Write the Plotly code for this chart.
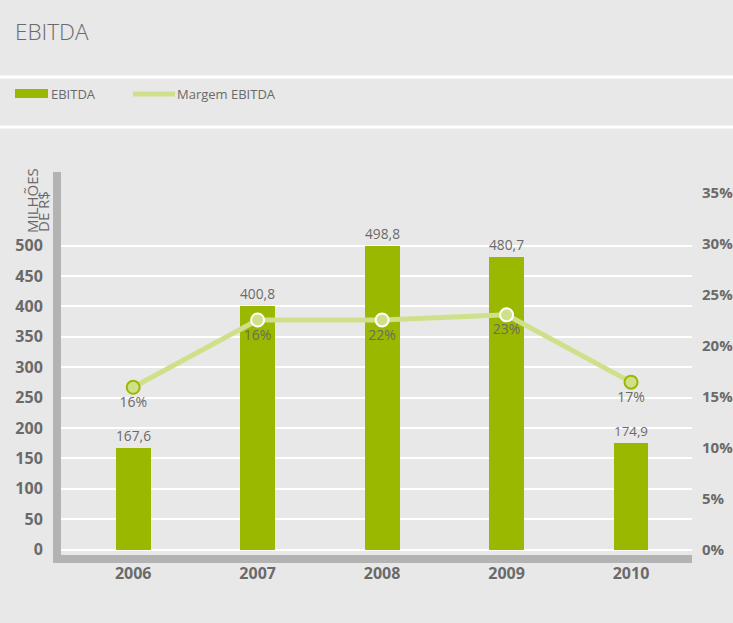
# EBITDA e margem EBITDA, 2006-2010
import plotly.graph_objects as go

# Dados
anos = ["2006", "2007", "2008", "2009", "2010"]
ebitda = [167.6, 400.8, 498.8, 480.7, 174.9]
margem = [15.9, 22.5, 22.5, 23.0, 16.4]
margem_rotulos = ["16%", "16%", "22%", "23%", "17%"]
ticks_esq = [0, 50, 100, 150, 200, 250, 300, 350, 400, 450, 500]
ticks_dir = [0, 5, 10, 15, 20, 25, 30, 35]

# Cores
VERDE = "#9bb800"
VERDE_CLARO = "#cfe08a"
CINZA_TXT = "#6a6a6a"
CINZA_EIXO = "#b3b3b3"
FUNDO = "#e8e8e8"
FONTE = "Open Sans"

W, H = 733, 623
L, R, T, B = 61, 41, 172, 68


def px(x):
    return (x - L) / (W - L - R)


def py(y):
    return (H - B - y) / (H - T - B)


fig = go.Figure()

fig.add_trace(go.Bar(
    x=anos, y=ebitda, name="EBITDA",
    marker=dict(color=VERDE, line=dict(width=0)),
    width=0.28,
    texttemplate="%{y:.1f}", textposition="outside",
    textfont=dict(size=14, color=CINZA_TXT, family=FONTE),
    cliponaxis=False,
))

fig.add_trace(go.Scatter(
    x=anos, y=margem, name="Margem EBITDA", yaxis="y2",
    mode="lines+markers+text",
    line=dict(color=VERDE_CLARO, width=5),
    marker=dict(size=13, color=VERDE_CLARO,
                line=dict(width=2, color=[VERDE, "white", "white", "white", VERDE])),
    text=margem_rotulos, textposition="bottom center",
    textfont=dict(size=14, color=CINZA_TXT, family=FONTE),
    cliponaxis=False,
))

fig.update_layout(
    width=W, height=H,
    margin=dict(l=L, r=R, t=T, b=B),
    paper_bgcolor=FUNDO, plot_bgcolor=FUNDO,
    separators=",.",
    showlegend=False,
    bargap=0,
    font=dict(family=FONTE, color=CINZA_TXT),
    xaxis=dict(
        type="category", range=[-0.58, 4.49], automargin=False,
        showgrid=False, showline=True, linecolor=CINZA_EIXO, linewidth=8,
        ticks="", ticklabelstandoff=-3,
        tickfont=dict(size=16, color=CINZA_TXT, family=FONTE, weight="bold"),
    ),
    yaxis=dict(
        range=[-9, 621], tickvals=ticks_esq, automargin=False,
        showgrid=True, gridcolor="white", gridwidth=2,
        zeroline=False,
        showline=True, linecolor=CINZA_EIXO, linewidth=8,
        ticks="", ticklabelstandoff=7,
        tickfont=dict(size=16, color=CINZA_TXT, family=FONTE, weight="bold"),
    ),
    yaxis2=dict(
        overlaying="y", side="right", automargin=False,
        range=[-0.54, 37.0], tickvals=ticks_dir,
        ticktext=[f"{v}%" for v in ticks_dir],
        showgrid=False, zeroline=False, showline=False,
        ticks="", ticklabelstandoff=9,
        tickfont=dict(size=15, color=CINZA_TXT, family=FONTE, weight="bold"),
    ),
)

# Faixas brancas de separação
for yy in (77, 127):
    fig.add_shape(type="line", xref="paper", yref="paper",
                  x0=px(0), x1=px(W), y0=py(yy), y1=py(yy),
                  line=dict(color="white", width=3))

# Título
fig.add_annotation(text="EBITDA", xref="paper", yref="paper",
                   x=px(13), y=py(31), xanchor="left", yanchor="middle",
                   showarrow=False,
                   font=dict(size=22.5, color=CINZA_TXT, family=FONTE, weight=300))

# Legenda
fig.add_shape(type="rect", xref="paper", yref="paper",
              x0=px(15), x1=px(48), y0=py(89), y1=py(98),
              fillcolor=VERDE, line=dict(width=0))
fig.add_annotation(text="EBITDA", xref="paper", yref="paper",
                   x=px(49), y=py(94), xanchor="left", yanchor="middle",
                   showarrow=False, font=dict(size=13, color=CINZA_TXT, family=FONTE))
fig.add_shape(type="line", xref="paper", yref="paper",
              x0=px(133), x1=px(175), y0=py(94), y1=py(94),
              line=dict(color=VERDE_CLARO, width=5))
fig.add_annotation(text="Margem EBITDA", xref="paper", yref="paper",
                   x=px(175), y=py(94), xanchor="left", yanchor="middle",
                   showarrow=False, font=dict(size=13, color=CINZA_TXT, family=FONTE))

# Título do eixo esquerdo
fig.add_annotation(text="MILHÕES", xref="paper", yref="paper",
                   x=px(32), y=py(201), xanchor="center", yanchor="middle",
                   textangle=-90, showarrow=False,
                   font=dict(size=15, color=CINZA_TXT, family=FONTE))
fig.add_annotation(text="DE R$", xref="paper", yref="paper",
                   x=px(43), y=py(212), xanchor="center", yanchor="middle",
                   textangle=-90, showarrow=False,
                   font=dict(size=15, color=CINZA_TXT, family=FONTE))

fig.write_html("out.html", config={"displayModeBar": False},
               post_script="document.body.style.margin='0px';")
